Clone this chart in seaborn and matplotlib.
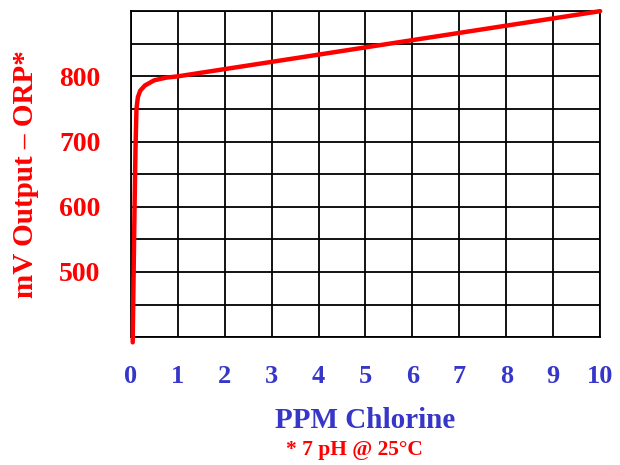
import matplotlib
matplotlib.use('Agg')
import matplotlib.pyplot as plt
import numpy
import pandas
import seaborn

# Data
ppm_chlorine = [0.04, 0.06, 0.08, 0.10, 0.12, 0.15, 0.20, 0.30, 0.50, 0.75, 1.0, 10.0]
mv_output = [392, 500, 600, 690, 750, 768, 778, 786, 794, 798, 800, 900]

x_ticks = list(range(0, 11))
y_grid = list(range(400, 901, 50))
y_labels = ['', '', '500', '', '600', '', '700', '', '800', '', '']

curve = pandas.DataFrame({'PPM': ppm_chlorine, 'mV': mv_output})

seaborn.set_style('white')
plt.rcParams['font.family'] = ['Liberation Serif', 'DejaVu Serif']
plt.rcParams['font.weight'] = 'bold'

fig = plt.figure(figsize = (6.2, 4.65), dpi = 100)
ax = fig.add_axes([0.211, 0.275, 0.757, 0.701])

seaborn.lineplot(data = curve, x = 'PPM', y = 'mV', color = 'red', linewidth = 3.2,
                 sort = False, ax = ax, clip_on = False, zorder = 5)

ax.set_xlim(0, 10)
ax.set_ylim(400, 900)
ax.set_xticks(x_ticks)
ax.set_xticklabels([str(t) for t in x_ticks])
ax.set_yticks(y_grid)
ax.set_yticklabels(y_labels)
ax.grid(True, color = 'black', linewidth = 1.3)
ax.tick_params(axis = 'both', length = 0)
ax.tick_params(axis = 'x', pad = 20, labelsize = 19, labelcolor = '#3636C8')
ax.tick_params(axis = 'y', pad = 22, labelsize = 20, labelcolor = 'red')
for lbl in ax.get_xticklabels() + ax.get_yticklabels():
    lbl.set_fontweight('bold')
for s in ax.spines.values():
    s.set_color('black')
    s.set_linewidth(1.3)

ax.set_xlabel('PPM Chlorine', fontsize = 21, fontweight = 'bold', color = '#3636C8', labelpad = 14)
ax.set_ylabel('mV Output \u2013 ORP*', fontsize = 21, fontweight = 'bold', color = 'red', labelpad = 14)
fig.text(0.572, 0.011, '* 7 pH @ 25\u00b0C', fontsize = 15.5, fontweight = 'bold', color = 'red',
         ha = 'center', va = 'bottom')

fig.savefig('out.png', dpi = 100)
